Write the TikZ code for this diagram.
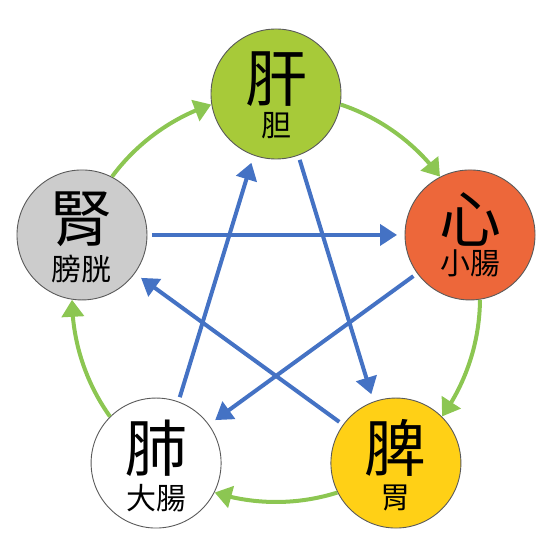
\documentclass[tikz,border=0pt]{standalone}
\usepackage{fontspec}
\newfontfamily\cjk{Noto Sans CJK TC}
\usetikzlibrary{arrows.meta,bending,calc}
\definecolor{ganC}{RGB}{167,202,57}
\definecolor{xinC}{RGB}{237,103,58}
\definecolor{piC}{RGB}{255,208,22}
\definecolor{shenC}{RGB}{204,204,204}
\definecolor{feiC}{RGB}{255,255,255}
\definecolor{shengC}{RGB}{140,198,82}
\definecolor{keC}{RGB}{68,114,196}
\definecolor{rimC}{RGB}{90,90,90}
\tikzset{
  organ/.style={circle, draw=rimC, line width=0.9pt, minimum size=130pt, inner sep=0pt, outer sep=0pt},
  mainch/.style={font=\cjk\fontsize{62pt}{64pt}\selectfont, inner sep=0pt},
  subch/.style={font=\cjk\fontsize{30pt}{32pt}\selectfont, inner sep=0pt},
  sheng/.style={draw=shengC, line width=4pt, -{Triangle[length=17pt,width=22pt,flex]}},
  ke/.style={draw=keC, line width=4pt, -{Triangle[length=17pt,width=21pt]}, shorten <=5pt, shorten >=8pt}
}
\begin{document}
\begin{tikzpicture}[x=1pt,y=1pt]
\useasboundingbox (0,0) rectangle (553,554);
\coordinate (O) at (276,256);
\def\R{204pt}
% organs
\node[organ, fill=ganC]   (K) at ($(O)+(90:\R)$) {};
\node[organ, fill=xinC]   (S) at ($(O)+(18:\R)$) {};
\node[organ, fill=piC]    (H) at ($(O)+(-54:\R)$) {};
\node[organ, fill=feiC]   (P) at ($(O)+(234:\R)$) {};
\node[organ, fill=shenC]  (J) at ($(O)+(162:\R)$) {};
% texts
\node[mainch] (Kt) at ($(K)+(0,15)$) {肝};
\node[subch]  (Ks) at ($(K)+(0,-32)$) {胆};
\node[mainch] (St) at ($(S)+(0,15)$) {心};
\node[subch]  (Ss) at ($(S)+(0,-28)$) {小腸};
\node[mainch] (Ht) at ($(H)+(0,15)$) {脾};
\node[subch]  (Hs) at ($(H)+(0,-35)$) {胃};
\node[mainch] (Pt) at ($(P)+(0,15)$) {肺};
\node[subch]  (Ps) at ($(P)+(0,-35)$) {大腸};
\node[mainch] (Jt) at ($(J)+(0,16)$) {腎};
\node[subch]  (Js) at ($(J)+(0,-34)$) {膀胱};
% generating cycle (green arcs)
\draw[sheng] ($(O)+(71.5:\R)$) arc[start angle=71.5, end angle=36.5, radius=\R];
\draw[sheng] ($(O)+(-0.5:\R)$) arc[start angle=-0.5, end angle=-35.5, radius=\R];
\draw[sheng] ($(O)+(-72.5:\R)$) arc[start angle=-72.5, end angle=-107.5, radius=\R];
\draw[sheng] ($(O)+(-144.5:\R)$) arc[start angle=-144.5, end angle=-179.5, radius=\R];
\draw[sheng] ($(O)+(143.5:\R)$) arc[start angle=143.5, end angle=108.5, radius=\R];
% controlling cycle (blue star)
\draw[ke] (J.0) -- (S.180);
\draw[ke] (K.-70) -- (H.110);
\draw[ke] (H.144) -- (J.-36);
\draw[ke] (S.216) -- (P.36);
\draw[ke] (P.70) -- (K.-110);
\end{tikzpicture}
\end{document}
